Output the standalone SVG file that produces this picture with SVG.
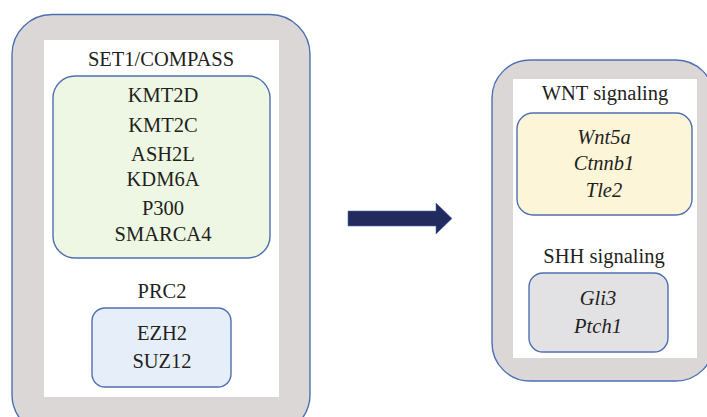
<svg xmlns="http://www.w3.org/2000/svg" width="707" height="417" viewBox="0 0 707 417">
  <style>
    .outer { fill: #dbd7d7; stroke: #4f6fb3; stroke-width: 1.4; }
    .panel { fill: #ffffff; }
    .box { stroke: #4f6fb3; stroke-width: 1.4; }
    .green { fill: #eef7e3; }
    .blue { fill: #e6eff9; }
    .yellow { fill: #fdf5d8; }
    .grey { fill: #e2e1e3; }
    text { font-family: "Liberation Serif", "Times New Roman", serif; font-size: 20.5px; fill: #231f20; text-anchor: middle; }
    .it { font-style: italic; }
  </style>

  <!-- Left: chromatin regulator complexes -->
  <g id="regulators">
    <rect class="outer" x="12" y="14.5" width="298" height="420" rx="40" ry="40"/>
    <rect class="panel" x="44" y="40" width="235" height="357"/>
  </g>

  <g id="set1-compass">
    <text x="161" y="66">SET1/COMPASS</text>
    <rect class="box green" x="53" y="76" width="217" height="182" rx="22" ry="22"/>
    <text x="163" y="102">KMT2D</text>
    <text x="163" y="132">KMT2C</text>
    <text x="163" y="161">ASH2L</text>
    <text x="163" y="186">KDM6A</text>
    <text x="163" y="215">P300</text>
    <text x="163" y="241">SMARCA4</text>
  </g>

  <g id="prc2">
    <text x="162" y="298">PRC2</text>
    <rect class="box blue" x="92" y="308" width="139" height="79" rx="13" ry="13"/>
    <text x="162" y="340">EZH2</text>
    <text x="162" y="368">SUZ12</text>
  </g>

  <!-- Connector -->
  <g id="connectors">
    <polygon points="348,211 436,211 436,203 452,218.5 436,234 436,226 348,226" fill="#232a5e" stroke="#4f6fb3" stroke-width="0.6"/>
  </g>

  <!-- Right: signaling pathways -->
  <g id="pathways">
    <rect class="outer" x="492" y="60" width="222" height="321" rx="38" ry="38"/>
    <rect class="panel" x="513" y="79" width="184" height="279"/>
  </g>

  <g id="wnt">
    <text x="605" y="100">WNT signaling</text>
    <rect class="box yellow" x="517" y="113" width="175" height="102" rx="16" ry="16"/>
    <text class="it" x="604" y="144">Wnt5a</text>
    <text class="it" x="604" y="170">Ctnnb1</text>
    <text class="it" x="604" y="197">Tle2</text>
  </g>

  <g id="shh">
    <text x="604" y="263">SHH signaling</text>
    <rect class="box grey" x="529" y="273" width="139" height="79" rx="14" ry="14"/>
    <text class="it" x="598" y="305">Gli3</text>
    <text class="it" x="598" y="333">Ptch1</text>
  </g>
</svg>
